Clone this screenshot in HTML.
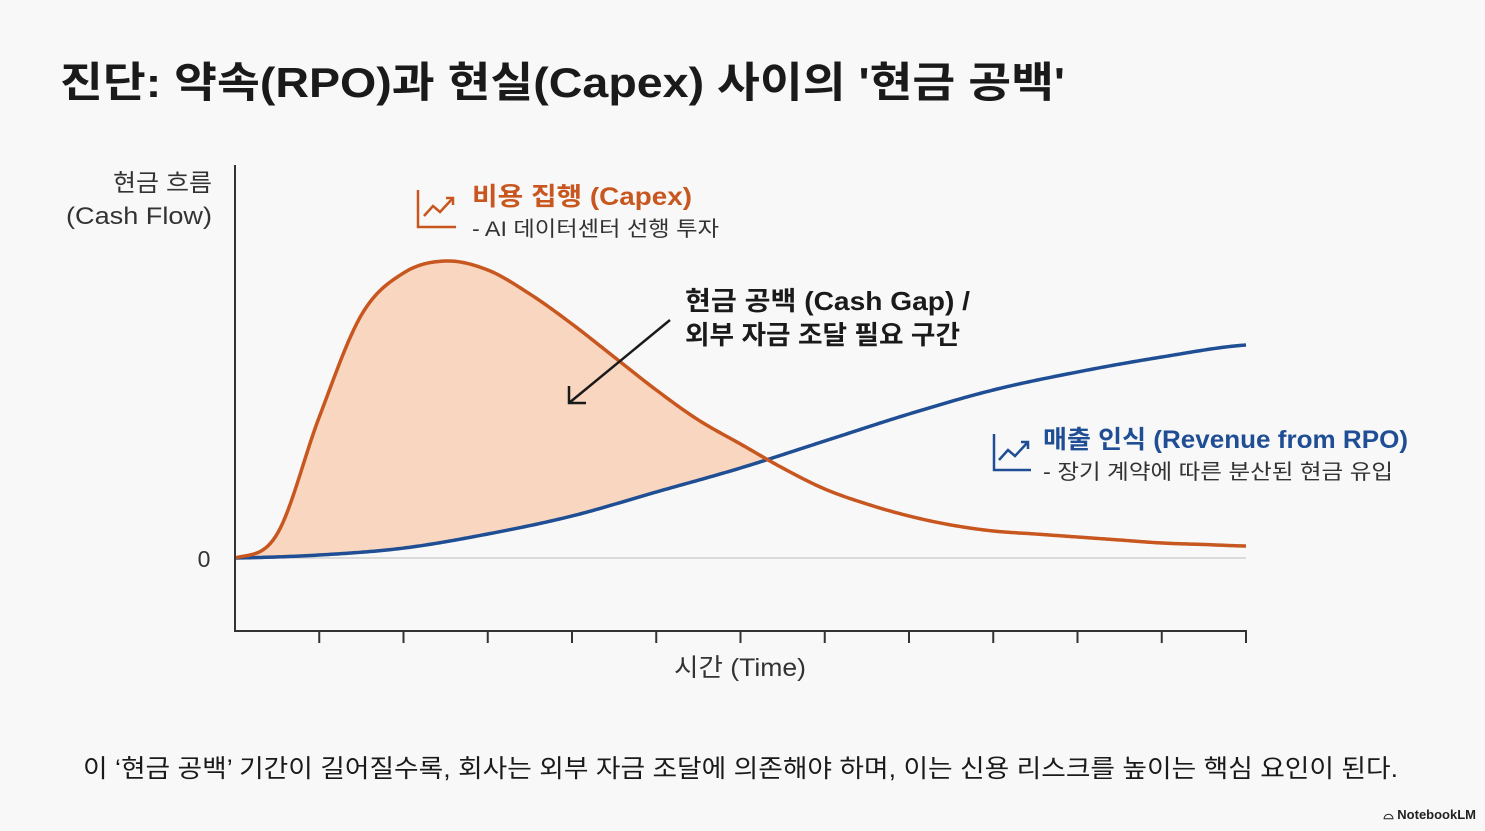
<!DOCTYPE html>
<html><head><meta charset="utf-8">
<style>
body{margin:0;background:#f8f8f8;width:1485px;height:831px;overflow:hidden;font-family:"Liberation Sans","Noto Sans CJK KR",sans-serif;}
svg{position:absolute;left:0;top:0}
</style></head>
<body>
<svg width="1485" height="831" id="chart" font-family="Liberation Sans, Noto Sans CJK KR, sans-serif">
<text x="60" y="97" font-size="42" font-weight="700" fill="#1a1a1a" textLength="1005" lengthAdjust="spacingAndGlyphs">진단: 약속(RPO)과 현실(Capex) 사이의 '현금 공백'</text>
<text x="212" y="191" font-size="24" fill="#333" text-anchor="end" textLength="99" lengthAdjust="spacingAndGlyphs">현금 흐름</text>
<text x="212" y="224" font-size="24" fill="#333" text-anchor="end" textLength="146" lengthAdjust="spacingAndGlyphs">(Cash Flow)</text>
<text x="204" y="567" font-size="23" fill="#333" text-anchor="middle">0</text>
<g id="plot"></g>
<line x1="235" y1="165" x2="235" y2="632" stroke="#333" stroke-width="2"/>
<line x1="234" y1="631" x2="1247" y2="631" stroke="#333" stroke-width="2"/>
<g id="ticks"></g>
<text x="674" y="676" font-size="25" fill="#333" textLength="132" lengthAdjust="spacingAndGlyphs">시간 (Time)</text>
<g fill="none" stroke="#c8561f" stroke-width="2.5">
<polyline points="418,190 418,227 456,227"/><polyline points="424,216 433,206 440,212 453,198"/><polyline points="446,198 453,198 453,205"/>
</g>
<text x="472" y="205" font-size="25" font-weight="700" fill="#c8561f" textLength="220" lengthAdjust="spacingAndGlyphs">비용 집행 (Capex)</text>
<text x="472" y="236" font-size="21" fill="#333" textLength="247" lengthAdjust="spacingAndGlyphs">- AI 데이터센터 선행 투자</text>
<g fill="none" stroke="#1f4e94" stroke-width="2.5">
<polyline points="994,434 994,470 1031,470"/><polyline points="999,460 1008,450 1015,456 1028,442"/><polyline points="1021,442 1028,442 1028,449"/>
</g>
<text x="1043" y="448" font-size="25" font-weight="700" fill="#1f4e94" textLength="365" lengthAdjust="spacingAndGlyphs">매출 인식 (Revenue from RPO)</text>
<text x="1043" y="479" font-size="21" fill="#333" textLength="350" lengthAdjust="spacingAndGlyphs">- 장기 계약에 따른 분산된 현금 유입</text>
<text x="685" y="310" font-size="26" font-weight="700" fill="#1a1a1a" textLength="285" lengthAdjust="spacingAndGlyphs">현금 공백 (Cash Gap) /</text>
<text x="685" y="344" font-size="26" font-weight="700" fill="#1a1a1a" textLength="275" lengthAdjust="spacingAndGlyphs">외부 자금 조달 필요 구간</text>
<g stroke="#1a1a1a" stroke-width="2.5" fill="none">
<line x1="670" y1="320" x2="569" y2="403"/><polyline points="569,386 569,403 586,403"/>
</g>
<text x="83" y="777" font-size="25" fill="#1a1a1a" textLength="1315" lengthAdjust="spacingAndGlyphs">이 ‘현금 공백’ 기간이 길어질수록, 회사는 외부 자금 조달에 의존해야 하며, 이는 신용 리스크를 높이는 핵심 요인이 된다.</text>
<text x="1476" y="819" font-size="13" font-weight="700" fill="#222" text-anchor="end">⌓ NotebookLM</text>
</svg>
<script>
const timePoints=[0,0.5,1,1.5,2,2.5,3,3.5,4,4.5,5,5.5,6,6.5,7,7.5,8,8.5,9,9.5,10,10.5,11,11.5,12];
const capexValues=[0,8,47,81,95,99,96,88,78,67,56,46,38,30,23,18,14,11,9,8,7,6,5,4.5,4];
const revenueTimes=[0,1,2,3,4,5,6,7,8,9,10,11,12];
const revenueValues=[0,1,3.3,8,14,22,30,39,48,56,62,67,71];
const tickCount=12;
const NS="http://www.w3.org/2000/svg";
const xS=t=>235+t*(1246-235)/12;
const yS=v=>558-v*3;
function interp(ts,vs,t){
  let i=0;while(i<ts.length-2&&t>ts[i+1])i++;
  const p0=vs[Math.max(i-1,0)],p1=vs[i],p2=vs[i+1],p3=vs[Math.min(i+2,vs.length-1)];
  const u=(t-ts[i])/(ts[i+1]-ts[i]);
  const u2=u*u,u3=u2*u;
  return 0.5*((2*p1)+(-p0+p2)*u+(2*p0-5*p1+4*p2-p3)*u2+(-p0+3*p1-3*p2+p3)*u3);
}
const plot=document.getElementById('plot');
const N=400,cap=[],rev=[];
for(let k=0;k<=N;k++){const t=12*k/N;cap.push([t,Math.max(0,interp(timePoints,capexValues,t))]);rev.push([t,Math.max(0,interp(revenueTimes,revenueValues,t))]);}
const topPts=cap.map(p=>[xS(p[0]),yS(p[1])]);
const botPts=rev.map((p,i)=>[xS(p[0]),yS(Math.min(p[1],cap[i][1]))]).reverse();
const fill=document.createElementNS(NS,'polygon');
fill.setAttribute('points',topPts.concat(botPts).map(p=>p.join(',')).join(' '));
fill.setAttribute('fill','#f8d6bf');


plot.appendChild(fill);
const zero=document.createElementNS(NS,'line');
zero.setAttribute('x1',235);zero.setAttribute('x2',1246);zero.setAttribute('y1',yS(0));zero.setAttribute('y2',yS(0));
zero.setAttribute('stroke','#cfcfcf');zero.setAttribute('stroke-width','1.5');


plot.appendChild(zero);
function line(pts,color,name){
  const pl=document.createElementNS(NS,'polyline');
  pl.setAttribute('points',pts.map(p=>xS(p[0])+','+yS(p[1])).join(' '));
  pl.setAttribute('fill','none');pl.setAttribute('stroke',color);pl.setAttribute('stroke-width','3.5');
  
  
  plot.appendChild(pl);
}
line(rev,'#1f4e94','revenue-line');
line(cap,'#c8561f','capex-line');
const tg=document.getElementById('ticks');
for(let i=1;i<=tickCount;i++){
  const l=document.createElementNS(NS,'line');
  l.setAttribute('x1',xS(i));l.setAttribute('x2',xS(i));l.setAttribute('y1',631);l.setAttribute('y2',643);
  l.setAttribute('stroke','#333');l.setAttribute('stroke-width','2');
  
  
  tg.appendChild(l);
}
</script>
</body></html>
